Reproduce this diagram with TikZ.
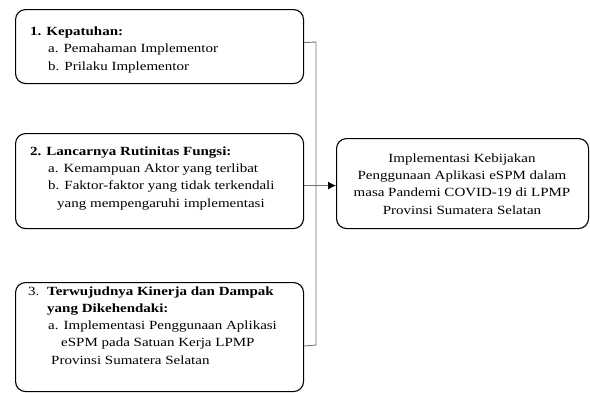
\documentclass[tikz,border=0pt]{standalone}
\usepackage{fontspec}
\setmainfont{Liberation Serif}[FakeStretch=1.2]
\usetikzlibrary{arrows.meta}
\begin{document}
\begin{tikzpicture}[
		x=1pt, y=1pt,
		% Define styles for boxes, texts and connectors
		every node/.style={font=\fontsize{12.5}{17.2}\selectfont},
		box/.style={draw, line width=1.1pt, rounded corners=10pt, minimum width=288pt, anchor=north west, inner sep=0pt},
		result/.style={box, minimum width=252pt, minimum height=90pt},
		txt/.style={align=left, anchor=base west, inner sep=0pt},
		link/.style={draw=black!55, line width=0.9pt},
		arrow/.style={link, -{Latex[length=8pt, width=8pt, color=black]}}
	]
	\useasboundingbox (0,0) rectangle (590,-392);

	% Boxes on the left
	\node[box, minimum height=74pt] (kep) at (15,-9) {};
	\node[box, minimum height=95pt] (lan) at (15,-133) {};
	\node[box, minimum height=109pt] (ter) at (15,-282) {};
	% Box on the right
	\node[result] (imp) at (336,-138) {};

	% Texts of the boxes (placed by the baseline of their last line)
	\node[txt] (kepT) at (30,-70) {\textbf{1. Kepatuhan:}\\
		\hspace*{18pt}a. Pemahaman Implementor\\
		\hspace*{18pt}b. Prilaku Implementor};
	\node[txt] (lanT) at (30,-207) {\textbf{2. Lancarnya Rutinitas Fungsi:}\\
		\hspace*{18pt}a. Kemampuan Aktor yang terlibat\\
		\hspace*{18pt}b. Faktor-faktor yang tidak terkendali\\
		\hspace*{27pt}yang mempengaruhi implementasi};
	\node[txt] (terT) at (28,-364) {\makebox[19pt][l]{3.}\textbf{Terwujudnya Kinerja dan Dampak}\\
		\hspace*{19pt}\textbf{yang Dikehendaki:}\\
		\hspace*{20pt}a. Implementasi Penggunaan Aplikasi\\
		\hspace*{33pt}eSPM pada Satuan Kerja LPMP\\
		\hspace*{23pt}Provinsi Sumatera Selatan};
	\node[align=center, anchor=base, inner sep=0pt] (impT) at (462,-214) {Implementasi Kebijakan\\
		Penggunaan Aplikasi eSPM dalam\\
		masa Pandemi COVID-19 di LPMP\\
		Provinsi Sumatera Selatan};

	% Connectors
	\coordinate (top) at (316,-42);
	\coordinate (bottom) at (316,-345);
	\draw[link] ([yshift=4pt]kep.east) -- (top) -- (bottom) -- ([yshift=-9pt]ter.east);
	\draw[arrow] ([yshift=-4.5pt]lan.east) -- ([yshift=-2pt]imp.west);
\end{tikzpicture}
\end{document}
